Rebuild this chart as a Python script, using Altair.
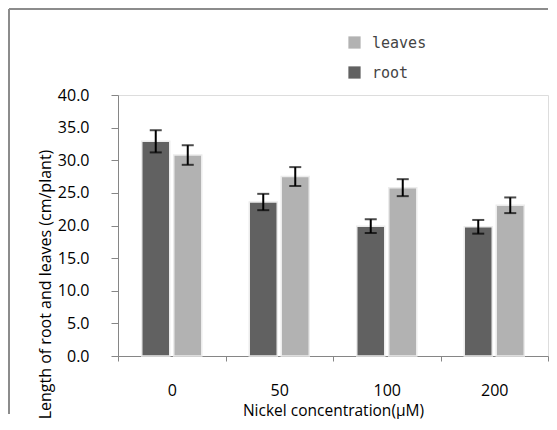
import altair as alt
import pandas as pd

concentrations = ["0", "50", "100", "200"]
root_len = [32.9, 23.6, 19.9, 19.8]
root_err = [1.7, 1.25, 1.05, 1.05]
leaves_len = [30.8, 27.5, 25.8, 23.1]
leaves_err = [1.5, 1.45, 1.3, 1.2]
series_order = ["root", "leaves"]
legend_order = ["leaves", "root"]
y_ticks = [0, 5, 10, 15, 20, 25, 30, 35, 40]

rows = []
for i, c in enumerate(concentrations):
    rows.append(dict(conc=c, part="root", value=root_len[i],
                     lo=root_len[i] - root_err[i], hi=root_len[i] + root_err[i]))
    rows.append(dict(conc=c, part="leaves", value=leaves_len[i],
                     lo=leaves_len[i] - leaves_err[i], hi=leaves_len[i] + leaves_err[i]))
df = pd.DataFrame(rows)

W, H = 430, 261
FONT = "Open Sans"

x = alt.X("conc:N", sort=concentrations,
          scale=alt.Scale(paddingInner=0, paddingOuter=0),
          axis=alt.Axis(title="Nickel concentration(µM)", labelAngle=0,
                        tickBand="extent", tickSize=5, labelPadding=21,
                        titlePadding=5, domainColor="#868686",
                        tickColor="#868686", labelFontSize=16,
                        titleFontSize=15.5, labelColor="#000000",
                        titleColor="#000000", labelFont=FONT,
                        titleFont=FONT, titleFontWeight="normal"))
xo = alt.XOffset("part:N", sort=series_order,
                 scale=alt.Scale(paddingInner=0.125, paddingOuter=0.742))
y_scale = alt.Scale(domain=[0, 40], nice=False)
y_axis = alt.Axis(title="Length of root and leaves (cm/plant)",
                  values=y_ticks, format=".1f", tickSize=7,
                  labelPadding=22, titlePadding=4, titleY=189,
                  domainColor="#868686", tickColor="#868686",
                  grid=False, labelFontSize=16, titleFontSize=16,
                  labelColor="#000000", titleColor="#000000",
                  labelFont=FONT, titleFont=FONT, labelOverlap=False,
                  titleFontWeight="normal")


def Y(field):
    return alt.Y(field, scale=y_scale, axis=y_axis)


color = alt.Color("part:N",
                  scale=alt.Scale(domain=legend_order, range=["#b2b2b2", "#616161"]),
                  legend=alt.Legend(title=None, orient="none", legendX=229,
                                    legendY=-60, symbolType="square",
                                    symbolSize=150, symbolStrokeWidth=0,
                                    labelFont="DejaVu Sans Mono",
                                    labelFontSize=15, labelColor="#444444",
                                    rowPadding=14, labelOffset=10))

base = alt.Chart(df)

bars = base.mark_bar(stroke="#ececec", strokeWidth=1.5).encode(
    x=x, xOffset=xo, y=Y("value:Q"), color=color)

err_rule = base.mark_rule(color="black", strokeWidth=2).encode(
    x=x, xOffset=xo, y=Y("lo:Q"), y2="hi:Q")
cap_lo = base.mark_tick(color="black", thickness=2, size=12).encode(
    x=x, xOffset=xo, y=Y("lo:Q"))
cap_hi = base.mark_tick(color="black", thickness=2, size=12).encode(
    x=x, xOffset=xo, y=Y("hi:Q"))

frame_left = alt.Chart(pd.DataFrame({"a": [0]})).mark_rule(
    color="#8c8c8c", strokeWidth=2).encode(
    x=alt.value(-109), y=alt.value(-86), y2=alt.value(H + 58))
frame_top = alt.Chart(pd.DataFrame({"a": [0]})).mark_rule(
    color="#8c8c8c", strokeWidth=2).encode(
    x=alt.value(-109), x2=alt.value(W), y=alt.value(-86))

chart = alt.layer(bars, err_rule, cap_lo, cap_hi, frame_left, frame_top).properties(
    width=W, height=H,
    padding={"left": 0, "top": 0, "right": 0, "bottom": 0},
).configure_view(stroke=None).configure(font=FONT, background="white")

chart.save("out.html", embed_options={"renderer": "svg", "actions": False})
